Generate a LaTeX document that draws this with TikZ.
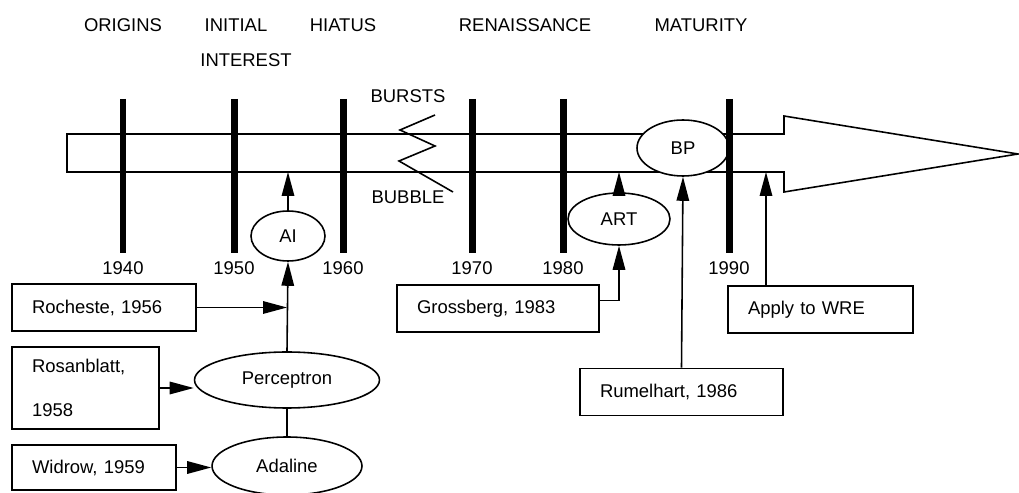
\documentclass[tikz,border=0pt]{standalone}
\usepackage{fontspec}
\setmainfont{Liberation Sans}
\usepackage{tikz}
\usetikzlibrary{arrows.meta}
\usetikzlibrary{shapes.geometric}
\usetikzlibrary{positioning}
\tikzset{arr/.style = {-{Triangle[length=4.8mm, width=2.5mm]}},
         box/.style = {draw, rectangle, line width=0.9pt, inner xsep=0.4cm,
                       minimum height=0.94cm, align=left},
         oval/.style = {draw, ellipse, line width=0.9pt, inner sep=0pt, fill=white},
         bar/.style = {line width=1.4mm},
         lbl/.style = {inner sep=0pt}}

\begin{document}
\begin{tikzpicture}[x=0.02cm, y=-0.02cm, font=\fontsize{10.5}{12.6}\selectfont]
      \useasboundingbox (0, 0) rectangle (1019, 493);

      % period names
      \node [lbl] (org) at (123, 25) {ORIGINS};
      \node [lbl] (init) at (236, 25) {INITIAL};
      \node [lbl] (intr) at (246, 60) {INTEREST};
      \node [lbl] (hia) at (343, 25) {HIATUS};
      \node [lbl] (ren) at (525, 25) {RENAISSANCE};
      \node [lbl] (mat) at (701, 25) {MATURITY};

      % time band with arrow head
      \draw [line width=0.9pt] (67, 134) -- (784, 134) -- (784, 116) -- (1018, 154)
            -- (784, 192) -- (784, 172) -- (67, 172) -- cycle;

      \draw [line width=0.9pt] (435, 115) -- (400, 130) -- (435, 146) -- (399, 161) -- (453, 192);
      \node [lbl] (bursts) at (408, 96) {BURSTS};
      \node [lbl] (bubble) at (408, 197) {BUBBLE};

      \node [oval, minimum width=1.84cm, minimum height=1.12cm] (bp) at (683, 148) {BP};

      % decades
      \foreach \x/\yr in {123/1940, 234/1950, 343/1960, 472/1970, 563/1980, 729/1990} {
        \draw [bar] (\x, 99) -- (\x, 253);
        \node [lbl] (y\yr) at (\x, 268) {\yr};
      }

      \coordinate (ai-in) at (288, 172);
      \coordinate (art-in) at (619, 172);
      \coordinate (wre-in) at (766, 172);

      \node [oval, minimum width=1.48cm, minimum height=1cm] (ai) at (288, 236) {AI};
      \node [oval, minimum width=3.7cm, minimum height=1.12cm] (perc) at (287, 380) {Perceptron};
      \node [oval, minimum width=3cm, minimum height=1.16cm] (ada) at (287, 466) {Adaline};
      \node [oval, minimum width=2.04cm, minimum height=1.04cm] (art) at (619, 219) {ART};

      \node [box, text width=2.88cm] (roch) at (104, 307.5) {Rocheste, 1956};
      \node [box, text width=2.14cm, minimum height=1.64cm] (rosa) at (85.5, 388) {Rosanblatt,\\[12pt]1958};
      \node [box, text width=2.48cm, minimum height=0.9cm] (wid) at (94, 467.5) {Widrow, 1959};
      \node [box, text width=3.24cm] (gros) at (498, 308.5) {Grossberg, 1983};
      \node [box, text width=2.9cm] (wre) at (820.5, 309.5) {Apply to WRE};
      \node [box, text width=3.26cm] (rum) at (681.5, 392) {Rumelhart, 1986};

      \draw [arr, line width=0.9pt] (ai.north) -- (ai-in);
      \draw [arr, line width=0.9pt] (perc.north) -- (ai.south);
      \draw [arr, line width=0.9pt] (roch.east) -- (roch.east -| perc.north);
      \draw [arr, line width=0.9pt] (rosa.east) -- (rosa.east -| perc.west);
      \draw [line width=0.9pt] (perc.south) -- (ada.north);
      \draw [arr, line width=0.9pt] (wid.east) -- (wid.east -| ada.west);
      \draw [arr, line width=0.9pt] (art.north) -- (art-in);
      \draw [arr, line width=0.9pt] ([yshift=0.16cm]gros.east) -| (art.south);
      \draw [arr, line width=0.9pt] (rum.north) -- (bp.south);
      \draw [arr, line width=0.9pt] (wre.north -| wre-in) -- (wre-in);
    \end{tikzpicture}
\end{document}
